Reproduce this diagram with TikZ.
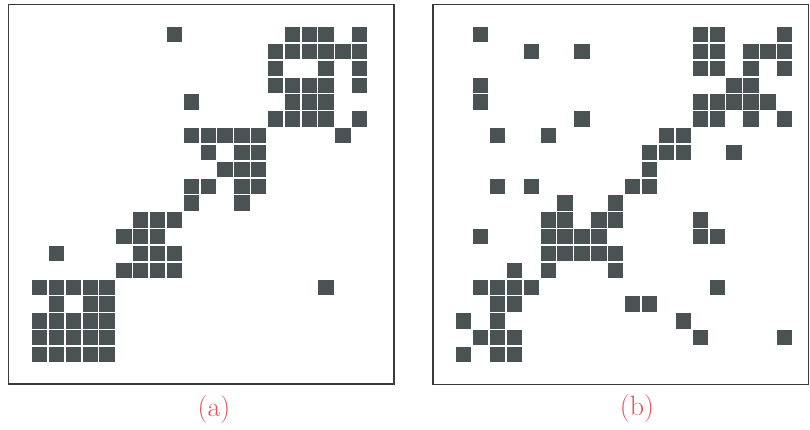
\documentclass[tikz,border=0pt]{standalone}
\usepackage{tikz}

\definecolor{cellgray}{HTML}{4B5254}
\definecolor{framegray}{HTML}{3A3A3A}
\definecolor{penred}{HTML}{E8505C}

\begin{document}
\begin{tikzpicture}[x=1pt, y=-1pt,
    frame/.style={draw=framegray, line width=1.1pt},
    cell/.style={fill=cellgray},
    lbl/.style={text=penred, font=\fontsize{28}{30}\selectfont}
]
\useasboundingbox (0,0) rectangle (810,429);
\draw[frame] (8.5,4.5) rectangle (394,384);
\draw[frame] (433,4.5) rectangle (808.5,384.5);
% matrix (a)
\foreach \r/\cs in {0/{8,15,16,17,19}, 1/{14,15,16,17,18,19}, 2/{14,17,19},
    3/{14,15,16,17,19}, 4/{9,15,16,17}, 5/{14,15,16,17,19},
    6/{9,10,11,12,13,18}, 7/{10,12,13}, 8/{11,12,13}, 9/{9,10,12,13},
    10/{9,12}, 11/{6,7,8}, 12/{5,6,7}, 13/{1,6,7,8}, 14/{5,6,7,8},
    15/{0,1,2,3,4,17}, 16/{1,3,4}, 17/{0,1,2,3,4}, 18/{0,1,2,3,4},
    19/{0,1,2,3,4}}
  \foreach \c in \cs
    \fill[cell] ({32+16.85*\c},{27+16.84*\r}) rectangle ++(15.3,15.3);
% matrix (b)
\foreach \r/\cs in {0/{1,14,15,19}, 1/{4,7,14,15,17,18,19}, 2/{14,15,17,19},
    3/{1,16,17}, 4/{1,14,15,16,17,18}, 5/{7,14,15,17,19}, 6/{2,5,12,13},
    7/{11,12,13,16}, 8/{11}, 9/{2,4,10,11}, 10/{6,9}, 11/{5,6,8,9,14},
    12/{1,5,6,7,8,14,15}, 13/{5,6,7,8,9}, 14/{3,5,9}, 15/{1,2,3,4,15},
    16/{2,3,10,11}, 17/{0,2,13}, 18/{1,2,3,14,19}, 19/{0,2,3}}
  \foreach \c in \cs
    \fill[cell] ({456+16.9*\c},{27+16.84*\r}) rectangle ++(15.3,15.3);
\node[lbl] (capa) at (214,410) {(a)};
\node[lbl] (capb) at (637,409) {(b)};
\end{tikzpicture}
\end{document}
